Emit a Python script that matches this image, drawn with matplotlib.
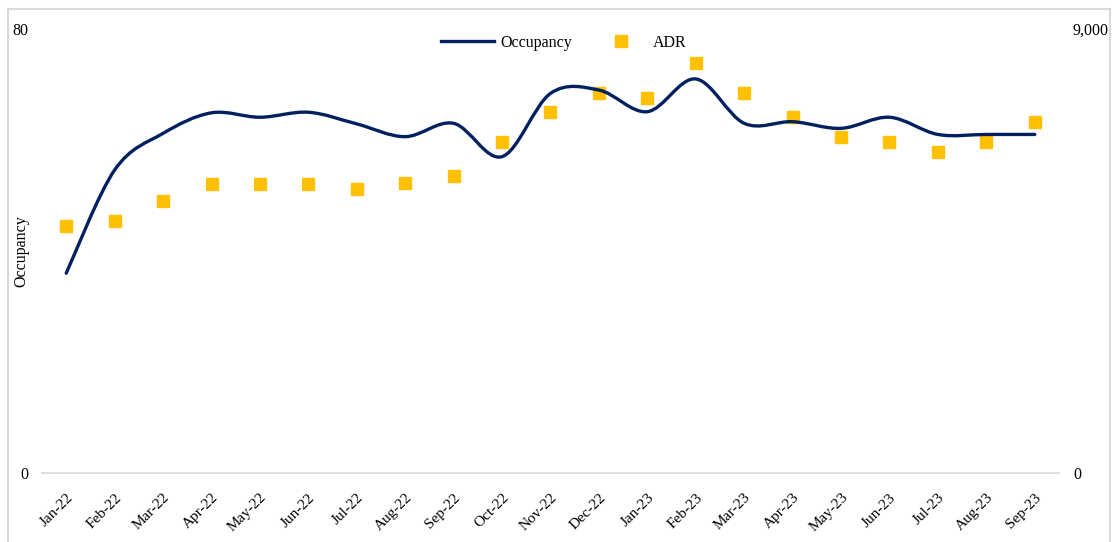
import numpy as np
import matplotlib.pyplot as plt
from matplotlib.path import Path
from matplotlib.patches import PathPatch, Rectangle
from matplotlib.lines import Line2D
from matplotlib.ticker import FuncFormatter

plt.rcParams["font.family"] = ["Liberation Serif", "DejaVu Serif"]

# ---- data
months = ["Jan-22", "Feb-22", "Mar-22", "Apr-22", "May-22", "Jun-22", "Jul-22",
          "Aug-22", "Sep-22", "Oct-22", "Nov-22", "Dec-22", "Jan-23", "Feb-23",
          "Mar-23", "Apr-23", "May-23", "Jun-23", "Jul-23", "Aug-23", "Sep-23"]
occupancy = [36.0, 54.6, 61.2, 64.9, 64.1, 65.0, 62.9, 60.6, 63.0, 57.0, 68.4,
             69.0, 65.1, 71.0, 63.0, 63.3, 62.1, 64.1, 61.0, 61.0, 61.0]
adr = [5013, 5115, 5514, 5865, 5865, 5865, 5763, 5872, 6014, 6716, 7311,
       7703, 7608, 8305, 7709, 7210, 6817, 6709, 6513, 6709, 7115]

NAVY = "#002060"
GOLD = "#FFC000"

x = np.arange(len(months))
y = np.array(occupancy, dtype=float)

# ---- smoothed line (Excel-like bezier through the points)
verts = [(x[0], y[0])]
codes = [Path.MOVETO]
n = len(x)
for i in range(n - 1):
    p0 = np.array([x[max(i - 1, 0)], y[max(i - 1, 0)]])
    p1 = np.array([x[i], y[i]])
    p2 = np.array([x[i + 1], y[i + 1]])
    p3 = np.array([x[min(i + 2, n - 1)], y[min(i + 2, n - 1)]])
    c1 = p1 + (p2 - p0) / 6
    c2 = p2 - (p3 - p1) / 6
    verts += [tuple(c1), tuple(c2), tuple(p2)]
    codes += [Path.CURVE4] * 3

fig = plt.figure(figsize=(11.15, 5.42), dpi=100)
ax = fig.add_axes([42 / 1115, 69 / 542, 1017 / 1115, 444 / 542])
ax2 = ax.twinx()

ax.add_patch(PathPatch(Path(verts, codes), facecolor="none", edgecolor=NAVY,
                       lw=2.4, capstyle="round", zorder=3))
ax2.plot(x, adr, linestyle="none", marker="s", markersize=8.5, color=GOLD,
         markeredgecolor=GOLD, zorder=4)
ax.set_zorder(ax2.get_zorder() + 1)
ax.patch.set_visible(False)

ax.set_xlim(-0.5, n - 0.5)
ax.set_ylim(0, 80)
ax2.set_ylim(0, 9000)
ax.set_yticks([0, 80])
ax2.set_yticks([0, 9000])
ax2.yaxis.set_major_formatter(FuncFormatter(lambda v, p: f"{int(v):,}"))

ax.set_xticks(x)
ax.set_xticklabels(months, rotation=45, ha="right", rotation_mode="anchor",
                   fontsize=11)
for a in (ax, ax2):
    a.tick_params(axis="y", length=0, labelsize=11.5, pad=10)
    for s in a.spines.values():
        s.set_visible(False)
ax.spines["bottom"].set_visible(True)
ax.spines["bottom"].set_color("#d9d9d9")
ax.spines["bottom"].set_linewidth(1.2)
ax.tick_params(axis="x", length=0, pad=13)

ax.set_ylabel("Occupancy", fontsize=11.5)
ax.yaxis.set_label_coords(-13 / 1017, 0.5)

handles = [Line2D([], [], color=NAVY, lw=2.4),
           Line2D([], [], linestyle="none", marker="s", markersize=8.5,
                  color=GOLD)]
fig.legend(handles, ["Occupancy", "ADR"], loc="center",
           bbox_to_anchor=(564 / 1115, 1 - 43 / 542), ncol=2, frameon=False,
           fontsize=11.5, handlelength=3.3, columnspacing=1.4, handletextpad=0.4)

fig.add_artist(Rectangle((8 / 1115, -0.05), 1102 / 1115, 1.05 - 9 / 542,
                         transform=fig.transFigure, fill=False,
                         edgecolor="#d9d9d9", lw=1.5))

fig.savefig("out.png", dpi=100)
